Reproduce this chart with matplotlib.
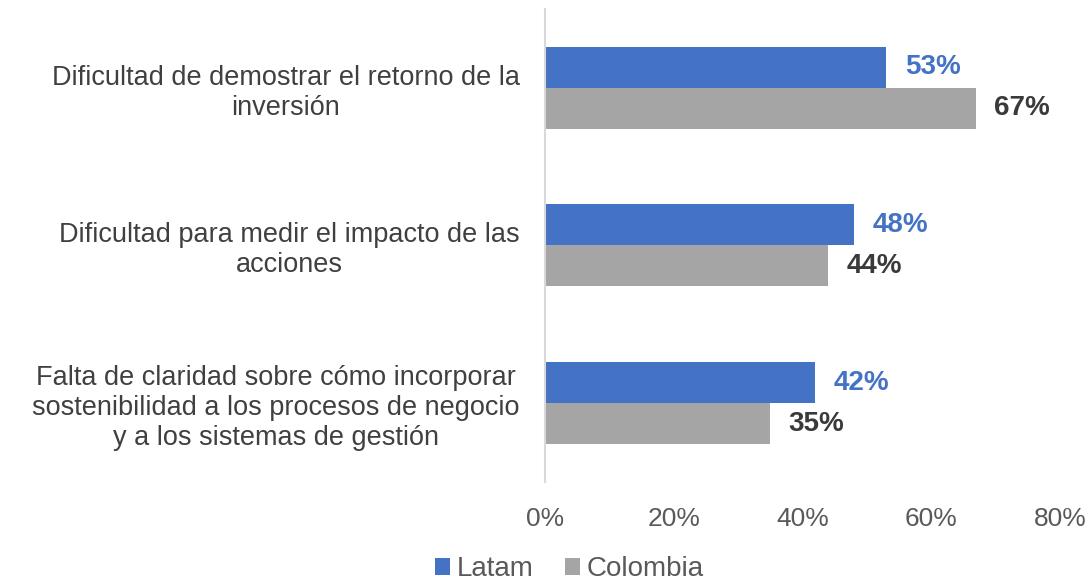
import matplotlib.pyplot as plt
import numpy as np

plt.rcParams["font.family"] = ["Liberation Sans", "DejaVu Sans"]

categories = [
    "Dificultad de demostrar el retorno de la\ninversión",
    "Dificultad para medir el impacto de las\nacciones",
    "Falta de claridad sobre cómo incorporar\nsostenibilidad a los procesos de negocio\ny a los sistemas de gestión",
]
latam = [53, 48, 42]
colombia = [67, 44, 35]
xticks = [0, 20, 40, 60, 80]

BLUE = "#4472C4"
GRAY = "#A5A5A5"

fig = plt.figure(figsize=(10.91, 5.88), dpi=100)
ax = fig.add_axes([0.4995, 0.1803, 0.4721, 0.8044])

y = np.arange(len(categories))
h = 0.26
ax.barh(y - h / 2, latam, height=h, color=BLUE, label="Latam")
ax.barh(y + h / 2, colombia, height=h, color=GRAY, label="Colombia")

for yi, v in zip(y, latam):
    ax.annotate(f"{v}%", (v, yi - h / 2), xytext=(13.5, 0), textcoords="offset points",
                va="center", ha="left", fontsize=20, fontweight="bold", color=BLUE)
for yi, v in zip(y, colombia):
    ax.annotate(f"{v}%", (v, yi + h / 2), xytext=(13, 0), textcoords="offset points",
                va="center", ha="left", fontsize=20, fontweight="bold", color="#3A3A3A")

ax.set_xlim(0, 80)
ax.set_ylim(2.5, -0.5)
ax.set_xticks(xticks)
ax.set_xticklabels([f"{t}%" for t in xticks], fontsize=19, color="#595959")
ax.set_yticks(y)
ax.set_yticklabels(categories, fontsize=19.5, color="#404040", multialignment="center",
                   linespacing=1.2)
ax.tick_params(axis="both", length=0)
ax.tick_params(axis="x", pad=18)
ax.tick_params(axis="y", pad=18)

for s in ["top", "right", "bottom"]:
    ax.spines[s].set_visible(False)
ax.spines["left"].set_color("#D9D9D9")
ax.spines["left"].set_linewidth(1.5)

leg = fig.legend(loc="lower center", bbox_to_anchor=(0.522, -0.033), ncol=2, frameon=False,
                 fontsize=20, handlelength=0.55, handleheight=0.55, handletextpad=0.25,
                 columnspacing=1.1)
for t in leg.get_texts():
    t.set_color("#595959")

fig.savefig("out.png", dpi=100)
